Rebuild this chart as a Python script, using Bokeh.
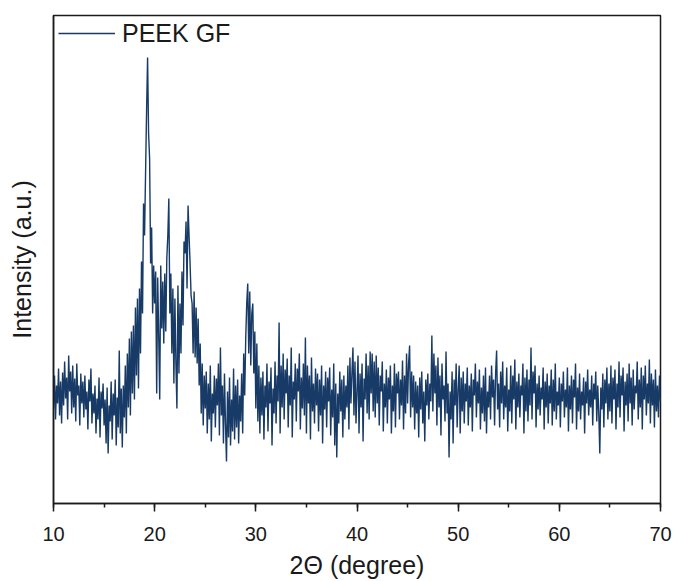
from bokeh.plotting import figure
from bokeh.models import Range1d, SingleIntervalTicker, FixedTicker
from bokeh.embed import file_html
from bokeh.resources import INLINE

# 2-theta sampling of the scan
two_theta_start = 10.0
two_theta_step = 0.1

# Intensity (a.u.), one row per degree
intensity_10_20 = [
    95, 128, 84, 118, 100, 135, 88, 122, 80, 131,
    98, 142, 105, 126, 84, 148, 112, 132, 90, 138,
    96, 125, 82, 140, 108, 118, 78, 130, 100, 122,
    86, 128, 94, 112, 74, 124, 102, 135, 80, 110,
    90, 118, 70, 105, 84, 126, 66, 112, 95, 120,
    78, 104, 60, 116, 50, 98, 82, 122, 64, 110,
    88, 124, 58, 106, 76, 153, 70, 115, 56, 118,
    86, 138, 70, 150, 96, 165, 88, 172, 110, 178,
    104, 196, 128, 205, 115, 215, 150, 242, 190, 300,
    268, 330, 392, 446, 370, 345, 240, 276, 190, 238,
]
intensity_20_30 = [
    200, 232, 110, 226, 168, 104, 238, 175, 222, 160,
    230, 172, 245, 268, 305, 190, 230, 150, 215, 120,
    205, 140, 95, 218, 130, 200, 150, 232, 178, 262,
    250, 282, 215, 298, 268, 240, 208, 200, 150, 212,
    146, 196, 140, 185, 118, 160, 90, 140, 78, 128,
    95, 132, 70, 120, 84, 138, 62, 110, 90, 128,
    76, 125, 98, 140, 68, 156, 88, 118, 60, 130,
    80, 42, 112, 66, 126, 58, 104, 72, 135, 64,
    118, 76, 124, 60, 108, 82, 130, 70, 150, 108,
    165, 200, 220, 150, 212, 138, 190, 200, 130, 172,
]
intensity_30_40 = [
    95, 160, 82, 138, 70, 126, 88, 132, 64, 118,
    96, 140, 72, 122, 100, 136, 58, 115, 90, 142,
    80, 128, 102, 181, 70, 138, 96, 150, 84, 134,
    110, 145, 76, 128, 98, 156, 66, 122, 104, 140,
    82, 135, 112, 150, 74, 126, 95, 140, 88, 166,
    70, 138, 100, 128, 64, 146, 92, 120, 80, 135,
    98, 130, 72, 124, 88, 138, 60, 118, 94, 132,
    76, 126, 102, 136, 68, 114, 86, 140, 58, 120,
    46, 110, 80, 132, 92, 124, 66, 128, 84, 118,
    96, 138, 74, 146, 100, 130, 156, 88, 142, 80,
]
intensity_40_50 = [
    112, 148, 70, 130, 96, 140, 62, 125, 104, 150,
    90, 138, 84, 152, 110, 150, 92, 142, 86, 148,
    100, 136, 78, 128, 112, 142, 72, 120, 96, 134,
    80, 126, 104, 138, 70, 118, 92, 140, 76, 130,
    110, 132, 84, 124, 98, 143, 74, 128, 90, 150,
    100, 140, 158, 86, 132, 96, 128, 74, 122, 90,
    118, 66, 126, 94, 132, 80, 112, 62, 124, 98,
    130, 84, 120, 102, 168, 92, 150, 110, 138, 78,
    146, 96, 128, 68, 140, 104, 118, 82, 152, 90,
    120, 46, 112, 84, 132, 60, 124, 98, 140, 76,
]
intensity_50_60 = [
    114, 138, 70, 126, 92, 132, 80, 120, 102, 136,
    78, 118, 96, 130, 72, 124, 108, 140, 86, 122,
    100, 134, 74, 116, 90, 128, 82, 136, 70, 112,
    96, 128, 84, 138, 106, 124, 78, 130, 153, 94,
    120, 76, 132, 100, 142, 84, 118, 96, 136, 72,
    114, 92, 138, 80, 128, 104, 144, 74, 122, 96,
    130, 86, 118, 108, 140, 70, 126, 92, 134, 82,
    124, 98, 156, 84, 132, 110, 138, 76, 120, 94,
    128, 88, 116, 104, 136, 74, 122, 96, 130, 80,
    118, 100, 134, 78, 124, 92, 140, 84, 112, 98,
]
intensity_60_70 = [
    126, 76, 120, 102, 132, 86, 114, 96, 136, 72,
    118, 94, 128, 80, 124, 106, 140, 74, 116, 92,
    130, 84, 112, 98, 126, 70, 122, 100, 134, 88,
    114, 96, 128, 78, 120, 104, 132, 82, 118, 90,
    50, 116, 94, 130, 76, 124, 100, 136, 84, 120,
    92, 138, 80, 126, 104, 134, 74, 120, 96, 142,
    86, 128, 108, 136, 72, 122, 98, 130, 82, 140,
    100, 126, 78, 134, 94, 118, 110, 142, 84, 124,
    96, 136, 74, 128, 104, 138, 88, 120, 100, 144,
    80, 130, 98, 124, 76, 134, 92, 118, 86, 128,
    102,
]

series_label = "PEEK GF"
x_label = "2\u0398 (degree)"
y_label = "Intensity (a.u.)"

intensity = (intensity_10_20 + intensity_20_30 + intensity_30_40 +
             intensity_40_50 + intensity_50_60 + intensity_60_70)
two_theta = [round(two_theta_start + i * two_theta_step, 2) for i in range(len(intensity))]

LINE = "#173a66"
FONT = "Liberation Sans"
INK = "#1a1a1a"

p = figure(width=675, height=581, output_backend="svg", toolbar_location=None,
           x_range=Range1d(10, 70), y_range=Range1d(0, 488),
           min_border_left=53, min_border_right=15, min_border_top=15, min_border_bottom=78)
p.background_fill_color = "white"
p.border_fill_color = "white"
p.outline_line_color = INK
p.outline_line_width = 1.5
p.xgrid.visible = False
p.ygrid.visible = False

p.line(two_theta, intensity, line_color=LINE, line_width=1.4, legend_label=series_label)

xa = p.xaxis[0]
xa.ticker = SingleIntervalTicker(interval=10, num_minor_ticks=2)
xa.axis_label = x_label
xa.axis_label_text_font = FONT
xa.axis_label_text_font_size = "25px"
xa.axis_label_text_font_style = "normal"
xa.axis_label_text_color = INK
xa.axis_label_standoff = 7
xa.major_label_text_font = FONT
xa.major_label_text_font_size = "20px"
xa.major_label_text_color = INK
xa.major_label_standoff = 15
xa.axis_line_color = INK
xa.axis_line_width = 1.5
xa.major_tick_line_color = INK
xa.major_tick_line_width = 1.5
xa.minor_tick_line_color = INK
xa.minor_tick_line_width = 1.5
xa.major_tick_in = 0
xa.major_tick_out = 8
xa.minor_tick_in = 0
xa.minor_tick_out = 4

ya = p.yaxis[0]
ya.ticker = FixedTicker(ticks=[])
ya.axis_label = y_label
ya.axis_label_text_font = FONT
ya.axis_label_text_font_size = "25px"
ya.axis_label_text_font_style = "normal"
ya.axis_label_text_color = INK
ya.axis_label_standoff = 18
ya.axis_line_color = INK
ya.axis_line_width = 1.5
ya.major_tick_line_color = None
ya.minor_tick_line_color = None

lg = p.legend[0]
lg.location = (5, 455)
lg.margin = 0
lg.padding = 0
lg.border_line_color = None
lg.background_fill_alpha = 0
lg.glyph_width = 57
lg.glyph_height = 30
lg.label_height = 30
lg.label_standoff = 7
lg.label_text_font = FONT
lg.label_text_font_size = "25px"
lg.label_text_color = INK
lg.spacing = 0

open("out.html", "w").write(file_html(p, INLINE))
